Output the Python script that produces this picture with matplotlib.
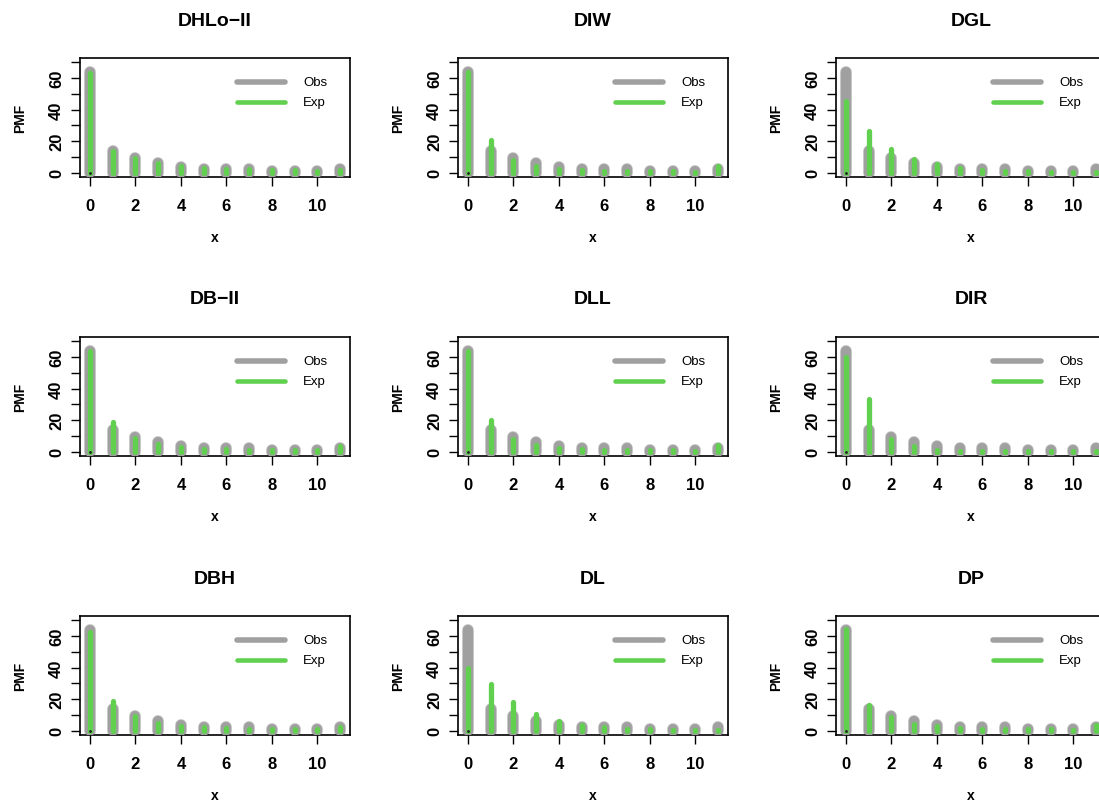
import matplotlib
matplotlib.use("Agg")
import matplotlib.pyplot as plt
import numpy as np

plt.rcParams['font.family'] = ['Liberation Sans', 'DejaVu Sans']

# ---- data ----
x_vals = list(range(12))
obs = [64.0, 13.5, 9.5, 5.8, 3.8, 2.2, 2.0, 2.0, 1.2, 1.2, 1.2, 2.2]

titles = ["DHLo\u2212II", "DIW", "DGL",
          "DB\u2212II", "DLL", "DIR",
          "DBH", "DL", "DP"]

exp_dhlo = [63.3, 13.6, 9.3, 5.8, 4.0, 2.8, 2.3, 2.0, 1.6, 1.4, 1.2, 1.4]
exp_diw = [64.0, 20.5, 7.8, 4.4, 2.6, 1.6, 1.2, 1.0, 0.8, 0.7, 0.6, 4.5]
exp_dgl = [45.5, 26.5, 15.3, 8.7, 5.2, 3.0, 1.8, 1.1, 0.7, 0.4, 0.3, 0.2]
exp_db2 = [64.0, 18.6, 8.5, 4.7, 2.8, 1.9, 1.5, 1.2, 1.0, 0.9, 0.8, 3.6]
exp_dll = [64.0, 20.3, 7.9, 4.5, 2.6, 1.6, 1.2, 1.0, 0.8, 0.7, 0.6, 4.4]
exp_dir = [60.3, 33.5, 8.0, 3.3, 1.3, 0.6, 0.4, 0.3, 0.2, 0.2, 0.2, 0.2]
exp_dbh = [62.5, 18.8, 9.0, 5.0, 3.0, 2.0, 1.5, 1.2, 1.0, 0.9, 0.8, 2.5]
exp_dl = [40.0, 29.9, 18.4, 10.4, 5.9, 3.4, 2.0, 1.2, 0.7, 0.4, 0.25, 0.15]
exp_dp = [64.5, 16.5, 8.5, 4.5, 2.8, 1.8, 1.3, 1.0, 0.8, 0.7, 0.6, 3.5]

exps = [exp_dhlo, exp_diw, exp_dgl, exp_db2, exp_dll, exp_dir, exp_dbh, exp_dl, exp_dp]

x_ticks = [0, 2, 4, 6, 8, 10]
y_ticks = [0, 10, 20, 30, 40, 50, 60, 70]
y_ticklabels = ["0", "", "20", "", "40", "", "60", ""]

GRAY = "#A0A0A0"
GRAY_EDGE = "#BEBEBE"
GREEN = "#61D04F"

W, H = 1099, 803
fig = plt.figure(figsize=(W / 100, H / 100), dpi=100)

col_left = [80, 458, 836]
row_top = [59, 338, 617]
box_w, box_h = 270, 119

for i, (title, ex) in enumerate(zip(titles, exps)):
    r, c = divmod(i, 3)
    left = col_left[c] / W
    bottom = 1 - (row_top[r] + box_h) / H
    ax = fig.add_axes([left, bottom, box_w / W, box_h / H])
    ax.set_xlim(-0.44, 11.44)
    ax.set_ylim(-2.8, 72.8)

    xs = np.array(x_vals)
    o = np.array(obs)
    e = np.array(ex)
    ax.vlines(xs, 0, o, colors=GRAY_EDGE, linewidth=8.4, capstyle='round', zorder=2)
    ax.vlines(xs, 0, o, colors=GRAY, linewidth=7.2, capstyle='round', zorder=3)
    ax.vlines(xs, 0, e, colors=GREEN, linewidth=3.8, capstyle='round', zorder=4)
    ax.plot(xs[:1], [0], marker='o', ms=1.0, color='#222222', zorder=5, lw=0)

    for sp in ax.spines.values():
        sp.set_linewidth(1.2)
        sp.set_color('black')

    ax.set_xticks(x_ticks)
    ax.set_xticklabels([str(t) for t in x_ticks], fontsize=12, fontweight='bold')
    ax.set_yticks(y_ticks)
    ax.set_yticklabels(y_ticklabels, fontsize=12, fontweight='bold',
                       rotation=90, va='center')
    ax.tick_params(axis='both', direction='out', length=6.5, width=1.0, color='black')
    ax.tick_params(axis='x', pad=8.5)
    ax.tick_params(axis='y', pad=5)

    ax.text(0.5, (box_h + 38) / box_h, title, transform=ax.transAxes,
            ha='center', va='center', fontsize=14, fontweight='bold')
    ax.text(0.5, -60 / box_h, "x", transform=ax.transAxes,
            ha='center', va='center', fontsize=10, fontweight='bold')
    ax.text(-60 / box_w, 0.5, "PMF", transform=ax.transAxes, rotation=90,
            ha='center', va='center', fontsize=10, fontweight='bold')

    # legend (bty = "n")
    ax.plot([0.58, 0.76], [0.796, 0.796], transform=ax.transAxes,
            color=GRAY, lw=4.0, solid_capstyle='round', zorder=6)
    ax.plot([0.58, 0.76], [0.634, 0.634], transform=ax.transAxes,
            color=GREEN, lw=3.3, solid_capstyle='round', zorder=6)
    ax.text(0.826, 0.796, "Obs", transform=ax.transAxes, ha='left', va='center', fontsize=9.5)
    ax.text(0.826, 0.634, "Exp", transform=ax.transAxes, ha='left', va='center', fontsize=9.5)

fig.savefig("out.png", dpi=100)
